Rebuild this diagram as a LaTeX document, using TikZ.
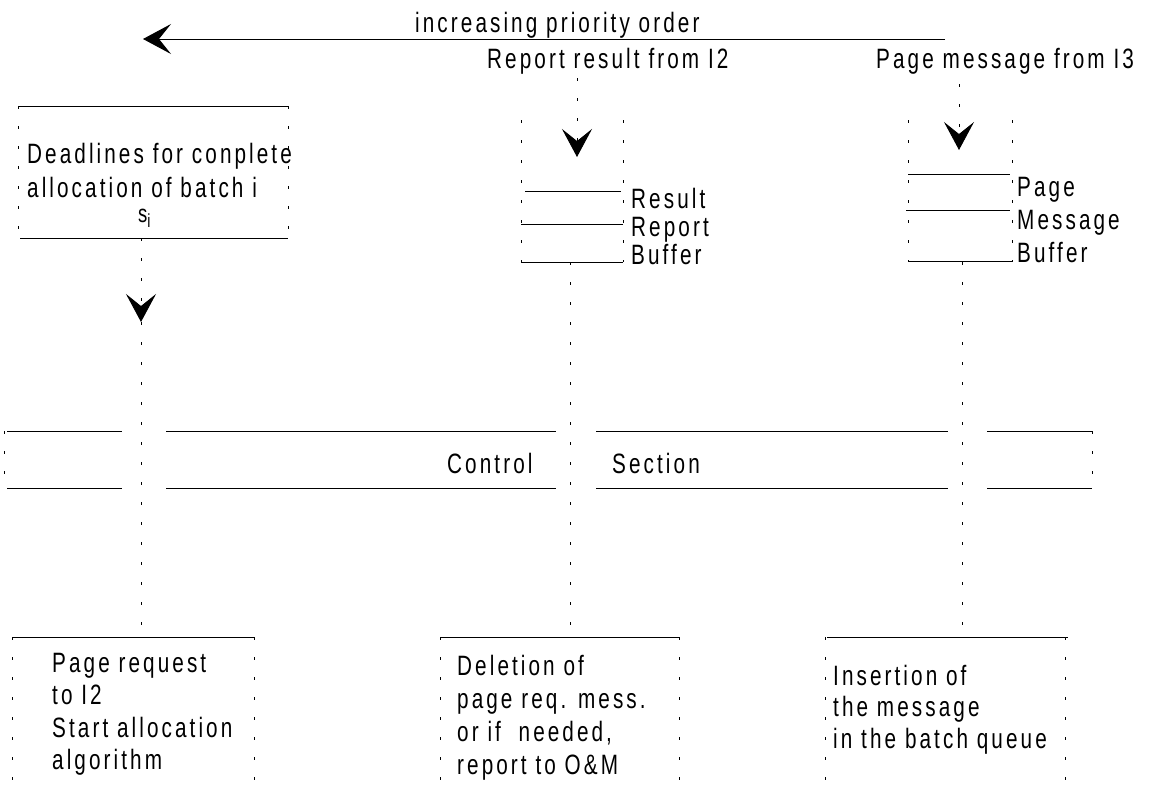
\documentclass[tikz,border=0pt]{standalone}
\usepackage{fontspec}
\setmainfont{Liberation Sans}[FakeStretch=0.74,LetterSpace=11]
\usepackage{tikz}
\usetikzlibrary{positioning,arrows.meta}
\definecolor{pen}{RGB}{0,0,0}
\tikzset{
  rule/.style={draw=pen, line width=1pt},
  dotln/.style={draw=pen, line width=0.9pt, dash pattern=on 3pt off 17pt},
  head/.style={-{Stealth[length=28pt, width=30pt, inset=12pt]}},
  txt/.style={inner sep=0pt, text=pen, font=\fontsize{28}{33}\selectfont},
  para/.style={txt, anchor=north west, align=left},
}

\begin{document}
\begin{tikzpicture}[x=1pt, y=-1pt]
  \useasboundingbox (0,0) rectangle (1150,787);
  % priority arrow
  \coordinate (priotail) at (945,39);
  \coordinate (priotip) at (143,39);
  \node[txt, anchor=base west] (prio) at (415,32) {increasing priority order};
  \draw[rule, head] (priotail) -- (priotip);
  % deadlines box
  \node[para, font=\fontsize{28}{34}\selectfont] (dead) at (27,143) {Deadlines for conplete\\allocation of batch i};
  \node[txt, anchor=base west, font=\fontsize{25}{25}\selectfont] (si) at (138,222) {s\raisebox{-5pt}{\fontsize{19}{19}\selectfont i}};
  \draw[rule] (18,106) -- (288,106);
  \draw[rule] (20,238) -- (288,238);
  \draw[dotln] (18,106) -- (18,238);
  \draw[dotln] (288,106) -- (288,238);
  \coordinate (deadout) at (141,238);
  \coordinate (deadtip) at (141,322);
  \draw[dotln, head] (deadout) -- (deadtip);
  % result report buffer
  \node[txt, anchor=base west] (repin) at (487,68) {Report result from I2};
  \coordinate (repfrom) at (577,78);
  \coordinate (reptip) at (577,157);
  \draw[dotln, head] (repfrom) -- (reptip);
  \draw[dotln] (521,120) -- (521,262);
  \draw[dotln] (623,120) -- (623,262);
  \draw[rule] (525,191) -- (621,191);
  \draw[rule] (521,224) -- (623,224);
  \draw[rule] (521,262) -- (623,262);
  \node[para, font=\fontsize{28}{28}\selectfont] (repbuf) at (631,188) {Result\\Report\\Buffer};
  % page message buffer
  \node[txt, anchor=base west] (pagein) at (876,68) {Page message from I3};
  \coordinate (pagefrom) at (959,84);
  \coordinate (pagetip) at (959,150);
  \draw[dotln, head] (pagefrom) -- (pagetip);
  \draw[dotln] (908,120) -- (908,262);
  \draw[dotln] (1012,120) -- (1012,262);
  \draw[rule] (908,174) -- (1010,174);
  \draw[rule] (906,210) -- (1010,210);
  \draw[rule] (908,261) -- (1012,261);
  \node[para, font=\fontsize{28}{33}\selectfont] (pagebuf) at (1017,177) {Page\\Message\\Buffer};
  % control section
  \foreach \y in {431,488} {
    \draw[rule] (7,\y) -- (122,\y);
    \draw[rule] (166,\y) -- (556,\y);
    \draw[rule] (596,\y) -- (948,\y);
    \draw[rule] (987,\y) -- (1092,\y);
  }
  \draw[dotln] (4,431) -- (4,488);
  \draw[dotln] (1092,431) -- (1092,488);
  \node[txt, anchor=base west] (ctrl) at (447,473) {Control};
  \node[txt, anchor=base west] (sect) at (612,473) {Section};
  % lines down to the actions
  \coordinate (reqtop) at (141,637);
  \coordinate (deltop) at (570,637);
  \coordinate (instop) at (962,637);
  \coordinate (repout) at (570,262);
  \coordinate (pageout) at (962,262);
  \draw[dotln] (deadtip) -- (reqtop);
  \draw[dotln] (repout) -- (deltop);
  \draw[dotln] (pageout) -- (instop);
  % action boxes
  \draw[rule] (12,637) -- (254,637);
  \draw[rule] (440,637) -- (679,637);
  \draw[rule] (827,637) -- (1068,637);
  \foreach \x in {12,254,440,679,825,1065}
    \draw[dotln] (\x,637) -- (\x,787);
  \node[para, font=\fontsize{28}{32.5}\selectfont] (req) at (52,653) {Page request\\to I2\\Start allocation\\algorithm};
  \node[para, font=\fontsize{28}{33}\selectfont] (del) at (457,655) {Deletion of\\page req. mess.\\or if\ \ needed,\\report to O\&M};
  \node[para, font=\fontsize{28}{31.5}\selectfont] (ins) at (833,665) {Insertion of\\the message\\in the batch queue};
\end{tikzpicture}
\end{document}
